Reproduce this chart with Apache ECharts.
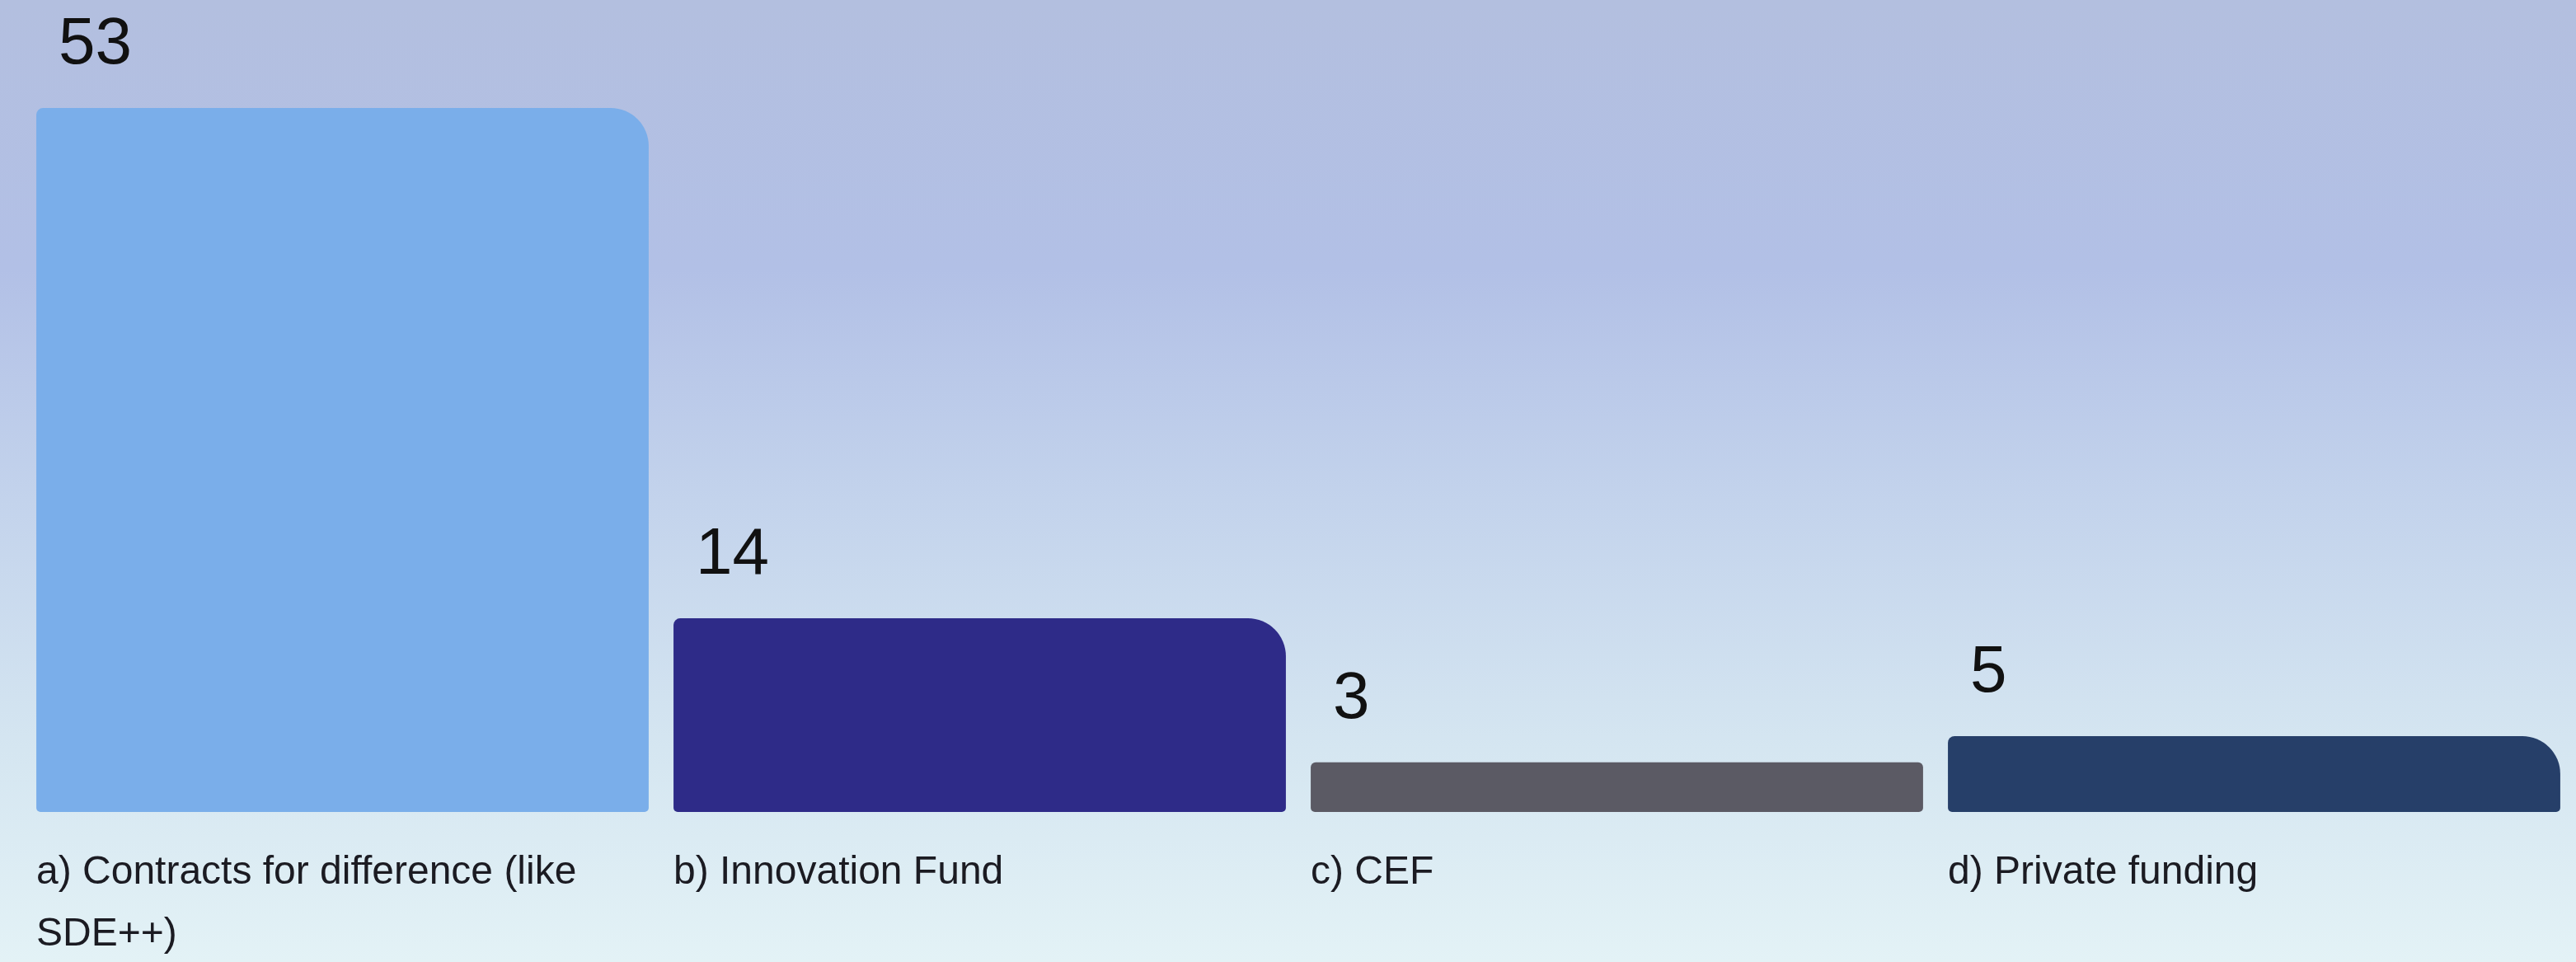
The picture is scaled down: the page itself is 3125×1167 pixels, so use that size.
<!DOCTYPE html>
<html>
<head>
<meta charset="utf-8">
<script src="https://cdn.jsdelivr.net/npm/echarts@6/dist/echarts.min.js"></script>
<style>
  html, body { margin: 0; padding: 0; }
  #chart {
    width: 3125px;
    height: 1167px;
    background: linear-gradient(to bottom, #b3bfdf 0%, #b2c0e6 28%, #c3d3ec 52%, #d5e6f1 78%, #e3f2f6 100%);
  }
</style>
</head>
<body>
<div id="chart"></div>
<script>
// Funding sources and number of responses
const categories = [
  'a) Contracts for difference (like SDE++)',
  'b) Innovation Fund',
  'c) CEF',
  'd) Private funding'
];
const values = [53, 14, 3, 5];
const barColors = ['#7aaeea', '#2e2b88', '#5b5a64', '#263f69'];

const chart = echarts.init(document.getElementById('chart'));

const barData = values.map((v, i) => ({
  value: v,
  itemStyle: {
    color: barColors[i],
    borderRadius: i === 2 ? [6, 6, 5, 5] : [8, 46, 5, 5]
  }
}));

chart.setOption({
  backgroundColor: 'transparent',
  animation: false,
  grid: {
    left: 29, right: 4, top: 20, bottom: 182,
    containLabel: false,
    outerBoundsMode: 'none'
  },
  xAxis: [
    {
      type: 'category',
      data: categories,
      axisLine: { show: false },
      axisTick: { show: false },
      axisLabel: { show: false }
    },
    {
      // label axis: one tick per category start so names sit flush with bar edges
      type: 'value',
      min: 0,
      max: categories.length,
      interval: 1,
      position: 'bottom',
      axisLine: { show: false },
      axisTick: { show: false },
      splitLine: { show: false },
      axisLabel: {
        formatter: v => categories[v] || '',
        align: 'left',
        padding: [0, 0, 0, 15],
        margin: 36,
        width: 743,
        overflow: 'break',
        lineHeight: 75,
        fontFamily: '"Liberation Sans", Arial, sans-serif',
        fontSize: 48,
        color: '#1b1b22',
        showMinLabel: true,
        showMaxLabel: false
      }
    }
  ],
  yAxis: {
    type: 'value',
    min: -0.8,
    max: 60,
    startValue: -0.8,
    show: false,
    splitLine: { show: false }
  },
  series: [{
    type: 'bar',
    xAxisIndex: 0,
    data: barData,
    barCategoryGap: '3.9%',
    label: {
      show: true,
      position: [27, -36],
      align: 'left',
      verticalAlign: 'bottom',
      fontFamily: '"Liberation Sans", Arial, sans-serif',
      fontSize: 80,
      color: '#111111'
    }
  }]
});
</script>
</body>
</html>
